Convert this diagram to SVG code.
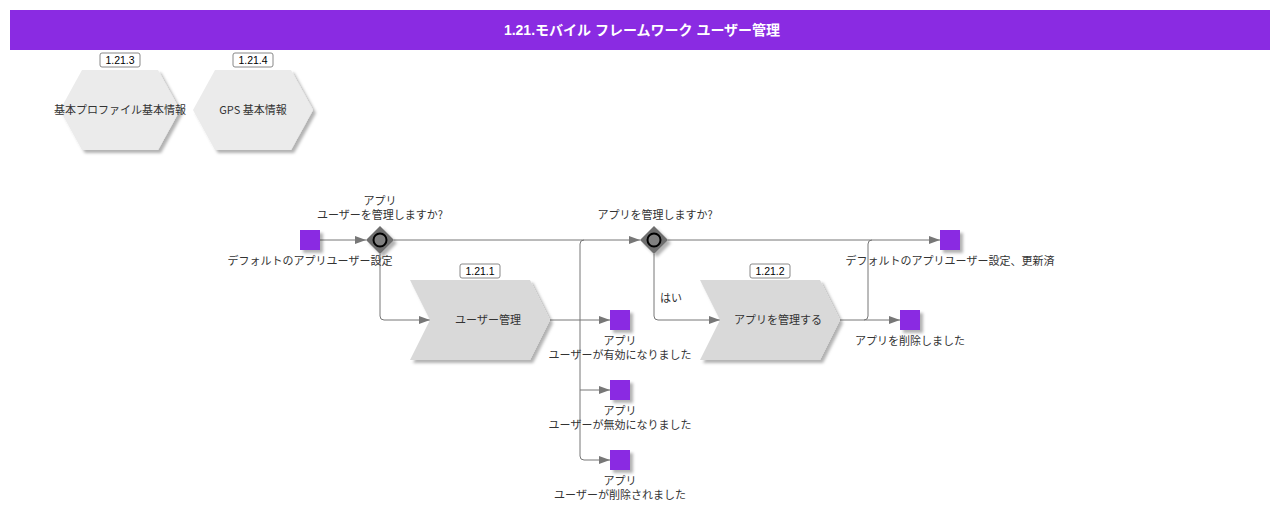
<svg xmlns="http://www.w3.org/2000/svg" width="1280" height="511" viewBox="0 0 1280 511">
<style>
.t{font-family:"Noto Sans CJK JP","Liberation Sans",sans-serif;font-size:11px;fill:#333;text-anchor:middle}
.id{font-family:"Liberation Sans",Arial,sans-serif;font-size:10.5px;fill:#000;text-anchor:middle}
.idb{fill:#fff;stroke:#888;stroke-width:1}
.ev{fill:#8A2BE2;filter:url(#sh)}
.task{fill:#d9d9d9;filter:url(#sh)}
.hex{fill:#ebebeb;filter:url(#sh)}
.gw{fill:#6e6e6e;filter:url(#sh)}
.c{fill:none;stroke:#777;stroke-width:1;marker-end:url(#ah)}
.l{fill:none;stroke:#777;stroke-width:1}
</style>
<defs>
<filter id="sh" x="-20%" y="-20%" width="150%" height="150%">
<feDropShadow dx="3" dy="3" stdDeviation="1.5" flood-color="#000" flood-opacity="0.3"/>
</filter>
<marker id="ah" markerWidth="12" markerHeight="10" refX="11" refY="4" orient="auto" markerUnits="userSpaceOnUse">
<path d="M0,0 L11,4 L0,8 Z" fill="#777"/>
</marker>
</defs>
<rect x="0" y="0" width="1280" height="511" fill="#fff"/>
<g id="title">
<rect x="10" y="10" width="1260" height="40" fill="#8A2BE2"/>
<text x="642" y="35" font-family="'Liberation Sans','Noto Sans CJK JP',sans-serif" font-size="14" font-weight="bold" fill="#fff" text-anchor="middle">1.21.モバイル フレームワーク ユーザー管理</text>
</g>
<g id="hex-1213">
<polygon class="hex" points="60,110 82,70 158,70 180,110 158,150 82,150"/>
<rect class="idb" x="100" y="53" width="40" height="14" rx="2"/>
<text class="id" x="120" y="64">1.21.3</text>
<text class="t" x="120" y="114">基本プロファイル基本情報</text>
</g>
<g id="hex-1214">
<polygon class="hex" points="193,110 215,70 291,70 313,110 291,150 215,150"/>
<rect class="idb" x="233" y="53" width="40" height="14" rx="2"/>
<text class="id" x="253" y="64">1.21.4</text>
<text class="t" x="253" y="114">GPS 基本情報</text>
</g>
<g id="connectors">
<path class="c" d="M320,240 H366"/>
<path class="c" d="M394,240 H640"/>
<path class="c" d="M380,254 V316 Q380,320 384,320 H430"/>
<path class="c" d="M550,320 H610"/>
<path class="c" d="M584,240 Q580,240 580,244 V456 Q580,460 584,460 H610"/>
<path class="c" d="M580,390 H610"/>
<path class="c" d="M654,254 V316 Q654,320 658,320 H720"/>
<path class="c" d="M668,240 H940"/>
<path class="c" d="M840,320 H900"/>
<path class="l" d="M864,320 Q868,320 868,316 V244 Q868,240 872,240"/>
<text class="t" x="671" y="302">はい</text>
</g>
<g id="start">
<rect class="ev" x="300" y="230" width="20" height="20"/>
<text class="t" x="310" y="265">デフォルトのアプリユーザー設定</text>
</g>
<g id="gw1">
<polygon class="gw" points="380,226 394,240 380,254 366,240"/>
<circle cx="380" cy="240" r="6.5" fill="#808080" stroke="#000" stroke-width="2"/>
<text class="t" x="380" y="205">アプリ</text>
<text class="t" x="380" y="219">ユーザーを管理しますか?</text>
</g>
<g id="task-1211">
<polygon class="task" points="410,280 530,280 550,320 530,360 410,360 430,320"/>
<rect class="idb" x="460" y="264" width="40" height="14" rx="2"/>
<text class="id" x="480" y="275">1.21.1</text>
<text class="t" x="488" y="324">ユーザー管理</text>
</g>
<g id="end-enabled">
<rect class="ev" x="610" y="310" width="20" height="20"/>
<text class="t" x="620" y="345">アプリ</text>
<text class="t" x="620" y="359">ユーザーが有効になりました</text>
</g>
<g id="end-disabled">
<rect class="ev" x="610" y="380" width="20" height="20"/>
<text class="t" x="620" y="415">アプリ</text>
<text class="t" x="620" y="429">ユーザーが無効になりました</text>
</g>
<g id="end-deleted">
<rect class="ev" x="610" y="450" width="20" height="20"/>
<text class="t" x="620" y="485">アプリ</text>
<text class="t" x="620" y="499">ユーザーが削除されました</text>
</g>
<g id="gw2">
<polygon class="gw" points="654,226 668,240 654,254 640,240"/>
<circle cx="654" cy="240" r="6.5" fill="#808080" stroke="#000" stroke-width="2"/>
<text class="t" x="655" y="219">アプリを管理しますか?</text>
</g>
<g id="task-1212">
<polygon class="task" points="700,280 820,280 840,320 820,360 700,360 720,320"/>
<rect class="idb" x="750" y="264" width="40" height="14" rx="2"/>
<text class="id" x="770" y="275">1.21.2</text>
<text class="t" x="778" y="324">アプリを管理する</text>
</g>
<g id="end-updated">
<rect class="ev" x="940" y="230" width="20" height="20"/>
<text class="t" x="950" y="265">デフォルトのアプリユーザー設定、更新済</text>
</g>
<g id="end-app-deleted">
<rect class="ev" x="900" y="310" width="20" height="20"/>
<text class="t" x="910" y="345">アプリを削除しました</text>
</g>
</svg>
